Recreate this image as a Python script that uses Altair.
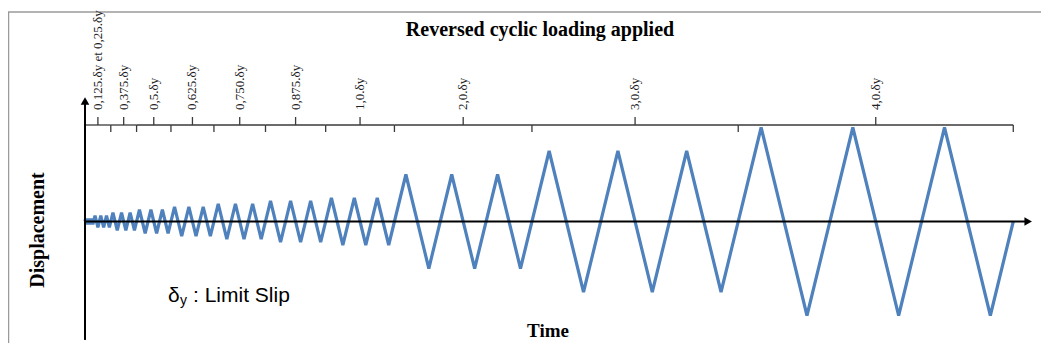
import altair as alt
import pandas as pd

# ---------------- data ----------------
# vertices of the reversed cyclic loading history (time in arbitrary units, displacement in multiples of delta_y)
TIME = [0, 0.125, 0.375, 0.625, 0.875, 1.125, 1.375,
        1.75, 2.25, 2.75, 3.25, 3.75, 4.25,
        4.875, 5.625, 6.375, 7.125, 7.875, 8.625,
        9.5, 10.5, 11.5, 12.5, 13.5, 14.5,
        15.625, 16.875, 18.125, 19.375, 20.625, 21.875,
        23.25, 24.75, 26.25, 27.75, 29.25, 30.75,
        32.375, 34.125, 35.875, 37.625, 39.375, 41.125,
        43, 45, 47, 49, 51, 53,
        56, 60, 64, 68, 72, 76,
        81, 87, 93, 99, 105, 111,
        118, 126, 134, 142, 150, 158, 162]
DISP = [0, 0.125, -0.125, 0.125, -0.125, 0.125, -0.125,
        0.25, -0.25, 0.25, -0.25, 0.25, -0.25,
        0.375, -0.375, 0.375, -0.375, 0.375, -0.375,
        0.5, -0.5, 0.5, -0.5, 0.5, -0.5,
        0.625, -0.625, 0.625, -0.625, 0.625, -0.625,
        0.75, -0.75, 0.75, -0.75, 0.75, -0.75,
        0.875, -0.875, 0.875, -0.875, 0.875, -0.875,
        1, -1, 1, -1, 1, -1,
        2, -2, 2, -2, 2, -2,
        3, -3, 3, -3, 3, -3,
        4, -4, 4, -4, 4, -4, 0]

STEP_LABELS = ["0,125.δy et 0,25.δy", "0,375.δy", "0,5.δy", "0,625.δy", "0,750.δy",
               "0,875.δy", "1,0.δy", "2,0.δy", "3,0.δy", "4,0.δy"]
STEP_START = [0, 4.5, 9, 15, 22.5, 31.5, 42, 54, 78, 114]
STEP_END = [4.5, 9, 15, 22.5, 31.5, 42, 54, 78, 114, 162]
STEP_CENTER = [2.25, 6.75, 12, 18.75, 27, 36.75, 48, 66, 96, 138]

TITLE = "Reversed cyclic loading  applied"
Y_TITLE = "Displacement"
X_TITLE = "Time"

# ---------------- layout ----------------
W, H = 1033, 335
xs = alt.Scale(domain=[-13.44, 166.84], nice=False, zero=False)
ys = alt.Scale(domain=[-5.17, 9.085], nice=False, zero=False)

wave = pd.DataFrame({"t": TIME, "d": DISP})
steps = pd.DataFrame({"label": STEP_LABELS, "start": STEP_START,
                      "end": STEP_END, "center": STEP_CENTER})
one = alt.Data(values=[{"k": 1}])

X = lambda f: alt.X(f, type="quantitative", scale=xs, axis=None)

line = alt.Chart(wave).mark_line(color="#4F81BD", strokeWidth=3.2).encode(
    x=X("t"), y=alt.Y("d:Q", scale=ys, axis=None), order="t:Q")

BRK = "#3a3a3a"
br_h = alt.Chart(steps).mark_rule(color=BRK, strokeWidth=1.3).encode(
    x=X("start"), x2="end", y=alt.value(117))
br_c = alt.Chart(steps).mark_rule(color=BRK, strokeWidth=1.3).encode(
    x=X("center"), y=alt.value(109), y2=alt.value(117))
br_e = alt.Chart(steps).mark_rule(color=BRK, strokeWidth=1.3).encode(
    x=X("end"), y=alt.value(117), y2=alt.value(124))
br_t = alt.Chart(steps).mark_text(angle=270, align="left", baseline="middle",
                                  font="Liberation Serif", fontSize=13, color="#222").encode(
    x=X("center"), y=alt.value(102), text="label:N")

# axes with arrows
vaxis = alt.Chart(one).mark_rule(color="black", strokeWidth=2).encode(
    x=alt.XDatum(0, scale=xs, axis=None),
    y=alt.YDatum(-5.04, scale=ys, axis=None), y2=alt.Y2Datum(5.0))
haxis = alt.Chart(one).mark_rule(color="black", strokeWidth=2).encode(
    x=alt.XDatum(0, scale=xs, axis=None), x2=alt.X2Datum(164.3),
    y=alt.YDatum(0, scale=ys, axis=None))
varrow = alt.Chart(one).mark_point(shape="triangle-up", filled=True, color="black",
                                   size=75, opacity=1).encode(
    x=alt.XDatum(0, scale=xs, axis=None), y=alt.YDatum(5.13, scale=ys, axis=None))
harrow = alt.Chart(one).mark_point(shape="triangle-right", filled=True, color="black",
                                   size=75, opacity=1).encode(
    x=alt.XDatum(164.6, scale=xs, axis=None), y=alt.YDatum(0, scale=ys, axis=None))

# frame
frame_top = alt.Chart(one).mark_rule(color="#9a9a9a", strokeWidth=1.5).encode(
    x=alt.value(0), x2=alt.value(W), y=alt.value(4))
frame_left = alt.Chart(one).mark_rule(color="#9a9a9a", strokeWidth=1.5).encode(
    x=alt.value(0.5), y=alt.value(4), y2=alt.value(H))

# texts
title = alt.Chart(one).mark_text(font="Liberation Serif", fontWeight="bold", fontSize=20,
                                 align="center", baseline="alphabetic").encode(
    x=alt.value(532), y=alt.value(28), text=alt.value(TITLE))
ytitle = alt.Chart(one).mark_text(font="Liberation Serif", fontWeight="bold", fontSize=20,
                                  angle=270, align="center", baseline="middle").encode(
    x=alt.value(30), y=alt.value(222), text=alt.value(Y_TITLE))
xtitle = alt.Chart(one).mark_text(font="Liberation Serif", fontWeight="bold", fontSize=19,
                                  align="center", baseline="alphabetic").encode(
    x=alt.value(540), y=alt.value(329), text=alt.value(X_TITLE))
note_d = alt.Chart(one).mark_text(font="Liberation Sans", fontSize=21, align="left",
                                  baseline="alphabetic").encode(
    x=alt.value(160), y=alt.value(294), text=alt.value("δ"))
note_y = alt.Chart(one).mark_text(font="Liberation Sans", fontSize=14, align="left",
                                  baseline="alphabetic").encode(
    x=alt.value(172), y=alt.value(297), text=alt.value("y"))
note_r = alt.Chart(one).mark_text(font="Liberation Sans", fontSize=21, align="left",
                                  baseline="alphabetic").encode(
    x=alt.value(185), y=alt.value(294), text=alt.value(": Limit Slip"))

chart = alt.layer(
    frame_top, frame_left, br_h, br_c, br_e, br_t, line, vaxis, haxis, varrow, harrow,
    title, ytitle, xtitle, note_d, note_y, note_r
).properties(width=W, height=H, autosize="none", padding=0).configure_view(stroke=None)

chart.save("out.html", embed_options={"renderer": "svg", "actions": False})
